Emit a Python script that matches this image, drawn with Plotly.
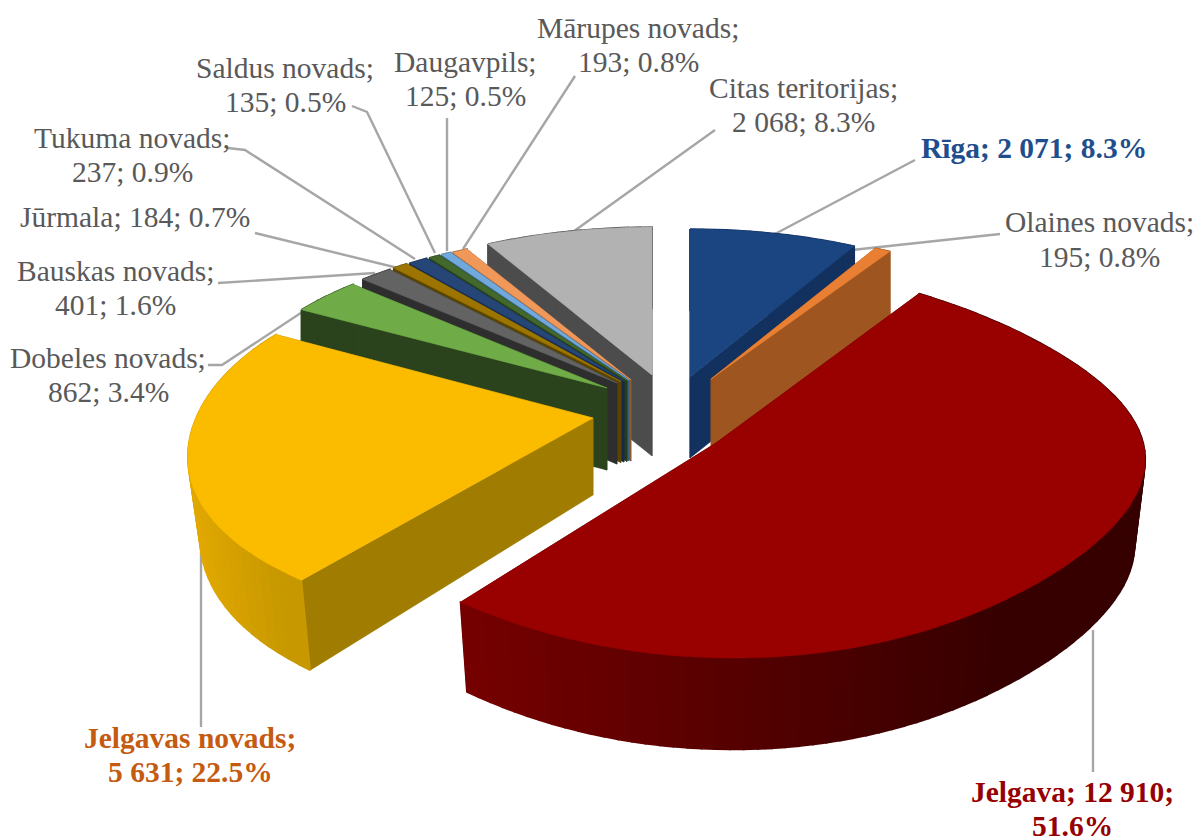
import math
import plotly.graph_objects as go

# ---- data ----
names = ["Rīga", "Olaines novads", "Jelgava", "Jelgavas novads", "Dobeles novads", "Bauskas novads",
         "Jūrmala", "Tukuma novads", "Saldus novads", "Daugavpils", "Mārupes novads", "Citas teritorijas"]
values = [2071, 195, 12910, 5631, 862, 401, 184, 237, 135, 125, 193, 2068]
value_text = ["2 071", "195", "12 910", "5 631", "862", "401", "184", "237", "135", "125", "193", "2 068"]
shares = ["8.3%", "0.8%", "51.6%", "22.5%", "3.4%", "1.6%", "0.7%", "0.9%", "0.5%", "0.5%", "0.8%", "8.3%"]

# ---- slice styles ----
top_colors = ["#1a4580", "#e97f32", "#990000", "#fbbc00", "#6fac47", "#636363",
              "#9c7500", "#264678", "#43682b", "#72a9dc", "#f0975a", "#b2b2b2"]
wall_colors = ["#13315f", "#9e551f", "#5a0000", "#a07c00", "#2b431c", "#2e2e2e",
               "#5a4400", "#152a4c", "#263d19", "#3a6285", "#8f5a30", "#4c4c4c"]
rim_left = ["#13315f", "#9e551f", "#760000", "#e2a900", "#2b431c", "#2e2e2e",
            "#5a4400", "#152a4c", "#263d19", "#3a6285", "#8f5a30", "#4c4c4c"]
rim_right = ["#13315f", "#9e551f", "#360000", "#c89800", "#2b431c", "#2e2e2e",
             "#5a4400", "#152a4c", "#263d19", "#3a6285", "#8f5a30", "#4c4c4c"]

# ---- projection of every exploded slice: apex, radii, perspective, bulge, tilt, depth, depth scaling
BACK = dict(A=378, p=0.145, B=170, q=0.13, t=0, c=0, d=81, kx=1.0, ky=1.0)
geom = [
    dict(BACK, ax=690, ay=377),
    dict(BACK, ax=711, ay=379),
    dict(ax=716, ay=443, A=390, p=0.05, B=198, q=0.085, t=39, c=10, d=85, kx=0.975, ky=1.03),
    dict(ax=593, ay=418, A=410, p=0.19, B=184, q=0.16, t=-13, c=0, d=77, kx=0.97, ky=1.08),
    dict(BACK, ax=607, ay=388, d=82),
    dict(BACK, ax=617, ay=383),
    dict(BACK, ax=621, ay=381.5),
    dict(BACK, ax=624, ay=381),
    dict(BACK, ax=627, ay=380.5),
    dict(BACK, ax=629, ay=380),
    dict(BACK, ax=631, ay=380),
    dict(BACK, ax=652, ay=375),
]
paint_order = [11, 10, 9, 8, 7, 6, 5, 4, 0, 1, 3, 2]


def rim_point(g, deg):
    a = math.radians(deg)
    X, Y = math.sin(a), math.cos(a)
    dx = g["A"] * X * (1 - g["p"] * Y) + g["t"] * X * (1 - Y * Y) ** 2
    dy = -g["B"] * Y * (1 - g["q"] * Y) + g["c"] * X
    return dx, dy


def mix(c1, c2, f):
    v1 = [int(c1[i:i + 2], 16) for i in (1, 3, 5)]
    v2 = [int(c2[i:i + 2], 16) for i in (1, 3, 5)]
    return "#%02x%02x%02x" % tuple(round(a + (b - a) * f) for a, b in zip(v1, v2))


fig = go.Figure()


def poly(pts, color, lw=0.6):
    fig.add_trace(go.Scatter(
        x=[p[0] for p in pts] + [pts[0][0]], y=[p[1] for p in pts] + [pts[0][1]],
        mode="lines", fill="toself", fillcolor=color, line=dict(color=color, width=lw),
        hoverinfo="skip", showlegend=False))


# ---- leaders (behind the pie) ----
GREY = "#a6a6a6"
leaders = [
    [(575, 76), (463, 249)],
    [(447, 118), (447, 251)],
    [(352, 106), (367, 112), (435, 253)],
    [(228, 148), (245, 150), (415, 259)],
    [(255, 233), (398, 268)],
    [(218, 283), (375, 273)],
    [(208, 365), (222, 365), (325, 297)],
    [(715, 130), (570, 234)],
    [(915, 160), (773, 235)],
    [(1000, 234), (852, 250)],
    [(1093, 630), (1093, 772)],
    [(201, 525), (201, 727)],
]
for pts in leaders:
    fig.add_trace(go.Scatter(x=[p[0] for p in pts], y=[p[1] for p in pts], mode="lines",
                             line=dict(color=GREY, width=2.4), hoverinfo="skip", showlegend=False))

total = sum(values)
edges = [0.0]
for v in values:
    edges.append(edges[-1] + v / total * 360.0)

for i in paint_order:
    g = geom[i]
    a0, a1 = edges[i], edges[i + 1]
    n = max(2, int((a1 - a0) / 2.0))
    angs = [a0 + (a1 - a0) * k / n for k in range(n + 1)]
    off = [rim_point(g, a) for a in angs]
    top = [(g["ax"] + x, g["ay"] + y) for x, y in off]
    bot = [(g["ax"] + x * g["kx"], g["ay"] + g["d"] + y * g["ky"]) for x, y in off]
    apex_t = (g["ax"], g["ay"])
    apex_b = (g["ax"], g["ay"] + g["d"])
    walls = [[apex_t, top[0], bot[0], apex_b], [apex_t, top[-1], bot[-1], apex_b]]
    walls.sort(key=lambda w: w[1][1])
    for w in walls:
        poly(w, wall_colors[i])
    # outer wall, shaded segment by segment from the left of the slice to its right
    xs = [p[0] for p in top]
    xmin, xmax = min(xs), max(xs)
    order = sorted(range(n), key=lambda k: top[k][0])
    for k in order:
        f = ((top[k][0] + top[k + 1][0]) / 2 - xmin) / max(xmax - xmin, 1)
        poly([top[k], top[k + 1], bot[k + 1], bot[k]], mix(rim_left[i], rim_right[i], min(1.0, f / 0.8)), lw=1.6)
    poly([apex_t] + top, top_colors[i])

# ---- labels: one annotation per text line, as the lines sit closer than the default leading ----
INK = "#595959"
label_style = {
    0: dict(x=1034, y=[148], split=False, color="#1f4e8c", bold=True),
    1: dict(x=1099, y=[222, 257], split=True, color=INK, bold=False),
    2: dict(x=1072, y=[792, 826], split="value", color="#960000", bold=True),
    3: dict(x=190, y=[738, 772], split=True, color="#c55a11", bold=True),
    4: dict(x=108, y=[358, 392], split=True, color=INK, bold=False),
    5: dict(x=115, y=[271, 305], split=True, color=INK, bold=False),
    6: dict(x=135, y=[217], split=False, color=INK, bold=False),
    7: dict(x=132, y=[138, 172], split=True, color=INK, bold=False),
    8: dict(x=285, y=[68, 102], split=True, color=INK, bold=False),
    9: dict(x=465, y=[62, 96], split=True, color=INK, bold=False),
    10: dict(x=638, y=[28, 62], split=True, color=INK, bold=False),
    11: dict(x=803, y=[88, 122], split=True, color=INK, bold=False),
}
annotations = []
for i, s in label_style.items():
    if s["split"] is False:
        lines = [f"{names[i]}; {value_text[i]}; {shares[i]}"]
    elif s["split"] == "value":
        lines = [f"{names[i]}; {value_text[i]};", shares[i]]
    else:
        lines = [f"{names[i]};", f"{value_text[i]}; {shares[i]}"]
    for line, y in zip(lines, s["y"]):
        txt = f"<b>{line}</b>" if s["bold"] else line
        annotations.append(dict(x=s["x"], y=y, text=txt, showarrow=False, xanchor="center", yanchor="middle",
                                align="center", font=dict(family="Liberation Serif", size=29.5, color=s["color"])))

fig.update_layout(
    width=1196, height=839, margin=dict(l=0, r=0, t=0, b=0),
    paper_bgcolor="white", plot_bgcolor="white", showlegend=False,
    xaxis=dict(range=[0, 1196], visible=False, fixedrange=True),
    yaxis=dict(range=[839, 0], visible=False, fixedrange=True),
    annotations=annotations,
)
fig.write_html("out.html", config={"displayModeBar": False},
               post_script="document.body.style.margin='0';")
